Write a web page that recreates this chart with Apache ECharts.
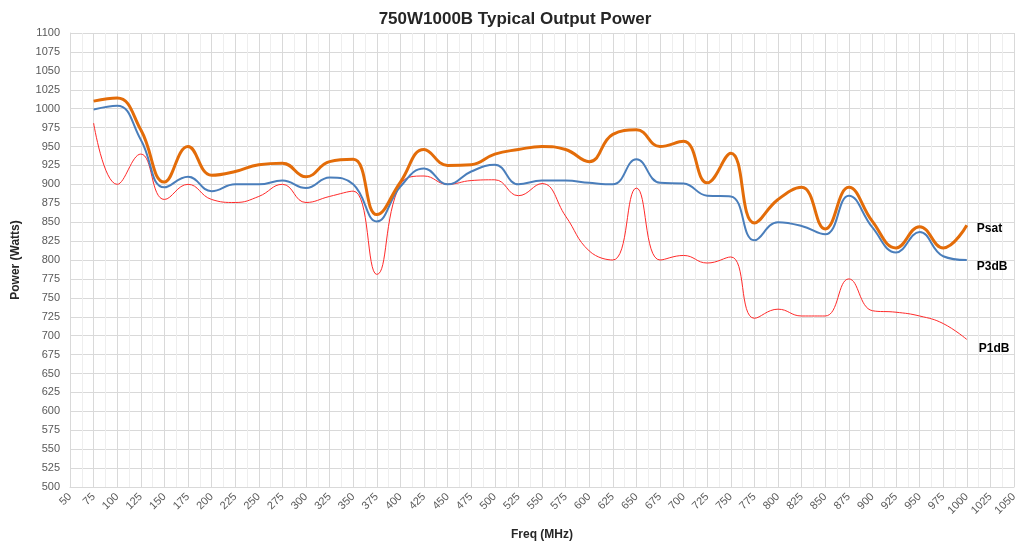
<!DOCTYPE html>
<html>
<head>
<meta charset="utf-8">
<script src="https://cdn.jsdelivr.net/npm/echarts@6/dist/echarts.min.js"></script>
<style>
  html, body { margin: 0; padding: 0; background: #fff; }
  #chart { width: 1030px; height: 546px; }
</style>
</head>
<body>
<div id="chart"></div>
<script>
const freqs = [75, 100, 125, 150, 175, 200, 225, 250, 275, 300, 325, 350, 375, 400, 425, 450, 475, 500,
  525, 550, 575, 600, 625, 650, 675, 700, 725, 750, 775, 800, 825, 850, 875, 900, 925, 950, 975, 1000]
const psat = [1010, 1014, 972, 903, 950, 912, 917, 926, 928, 910, 930, 933, 860, 903, 946, 925, 926, 940,
  946, 950, 946, 930, 966, 972, 950, 957, 902, 941, 849, 880, 896, 841, 896, 851, 816, 844, 816, 846]
const p3db = [999, 1004, 959, 896, 910, 891, 900, 900, 905, 895, 909, 900, 851, 897, 921, 900, 917, 926,
  900, 905, 905, 902, 900, 933, 902, 901, 885, 884, 826, 850, 845, 834, 885, 843, 810, 837, 805, 800]
const p1db = [981, 900, 940, 880, 900, 880, 876, 884, 900, 876, 884, 891, 781, 900, 911, 900, 905, 906,
  885, 901, 858, 812, 800, 895, 800, 806, 796, 804, 723, 735, 726, 726, 775, 733, 731, 726, 716, 695]

function pairs(vals) {
  return freqs.map((f, i) => [f, vals[i]])
}

const chart = echarts.init(document.getElementById('chart'))
const labelFont = { color: '#000', fontWeight: 'bold', fontSize: 12, fontFamily: 'Liberation Sans' }

chart.setOption({
  backgroundColor: '#fff',
  animation: false,
  title: {
    text: '750W1000B Typical Output Power',
    left: 'center',
    top: 6,
    textStyle: { fontFamily: 'Liberation Sans', fontWeight: 'bold', fontSize: 17, color: '#262626' }
  },
  grid: { left: 70, right: 16, top: 33, bottom: 57 },
  xAxis: {
    type: 'value',
    min: 50,
    max: 1050,
    interval: 25,
    name: 'Freq (MHz)',
    nameLocation: 'middle',
    nameGap: 42,
    nameTextStyle: { fontFamily: 'Liberation Sans', fontWeight: 'bold', fontSize: 12, color: '#262626' },
    axisLine: { show: true, lineStyle: { color: '#d9d9d9' } },
    axisTick: { show: false },
    axisLabel: {
      rotate: 45, fontFamily: 'Liberation Sans', fontSize: 11, color: '#595959', margin: 8,
      formatter: v => String(v)
    },
    splitLine: { show: true, lineStyle: { color: '#d9d9d9' } },
    minorTick: { show: false, splitNumber: 2 },
    minorSplitLine: { show: true, lineStyle: { color: '#eeeeee' } }
  },
  yAxis: {
    type: 'value',
    min: 500,
    max: 1100,
    interval: 25,
    name: 'Power (Watts)',
    nameLocation: 'middle',
    nameGap: 48,
    nameTextStyle: { fontFamily: 'Liberation Sans', fontWeight: 'bold', fontSize: 12, color: '#262626' },
    axisLine: { show: true, lineStyle: { color: '#d9d9d9' } },
    axisTick: { show: false },
    axisLabel: {
      fontFamily: 'Liberation Sans', fontSize: 11, color: '#595959', margin: 10,
      formatter: v => String(v)
    },
    splitLine: { show: true, lineStyle: { color: '#d9d9d9' } }
  },
  series: [
    {
      name: 'P1dB',
      type: 'line',
      smooth: 0.45,
      showSymbol: false,
      data: pairs(p1db),
      lineStyle: { color: '#ff2a2a', width: 1 },
      itemStyle: { color: '#ff2a2a' },
      endLabel: { show: true, formatter: '{a}', offset: [4, 9], ...labelFont }
    },
    {
      name: 'P3dB',
      type: 'line',
      smooth: 0.45,
      showSymbol: false,
      data: pairs(p3db),
      lineStyle: { color: '#4a7ebb', width: 2 },
      itemStyle: { color: '#4a7ebb' },
      endLabel: { show: true, formatter: '{a}', offset: [2, 7], ...labelFont }
    },
    {
      name: 'Psat',
      type: 'line',
      smooth: 0.45,
      showSymbol: false,
      data: pairs(psat),
      lineStyle: { color: '#e36c09', width: 3 },
      itemStyle: { color: '#e36c09' },
      endLabel: { show: true, formatter: '{a}', offset: [2, 3], ...labelFont }
    }
  ]
})
</script>
</body>
</html>
